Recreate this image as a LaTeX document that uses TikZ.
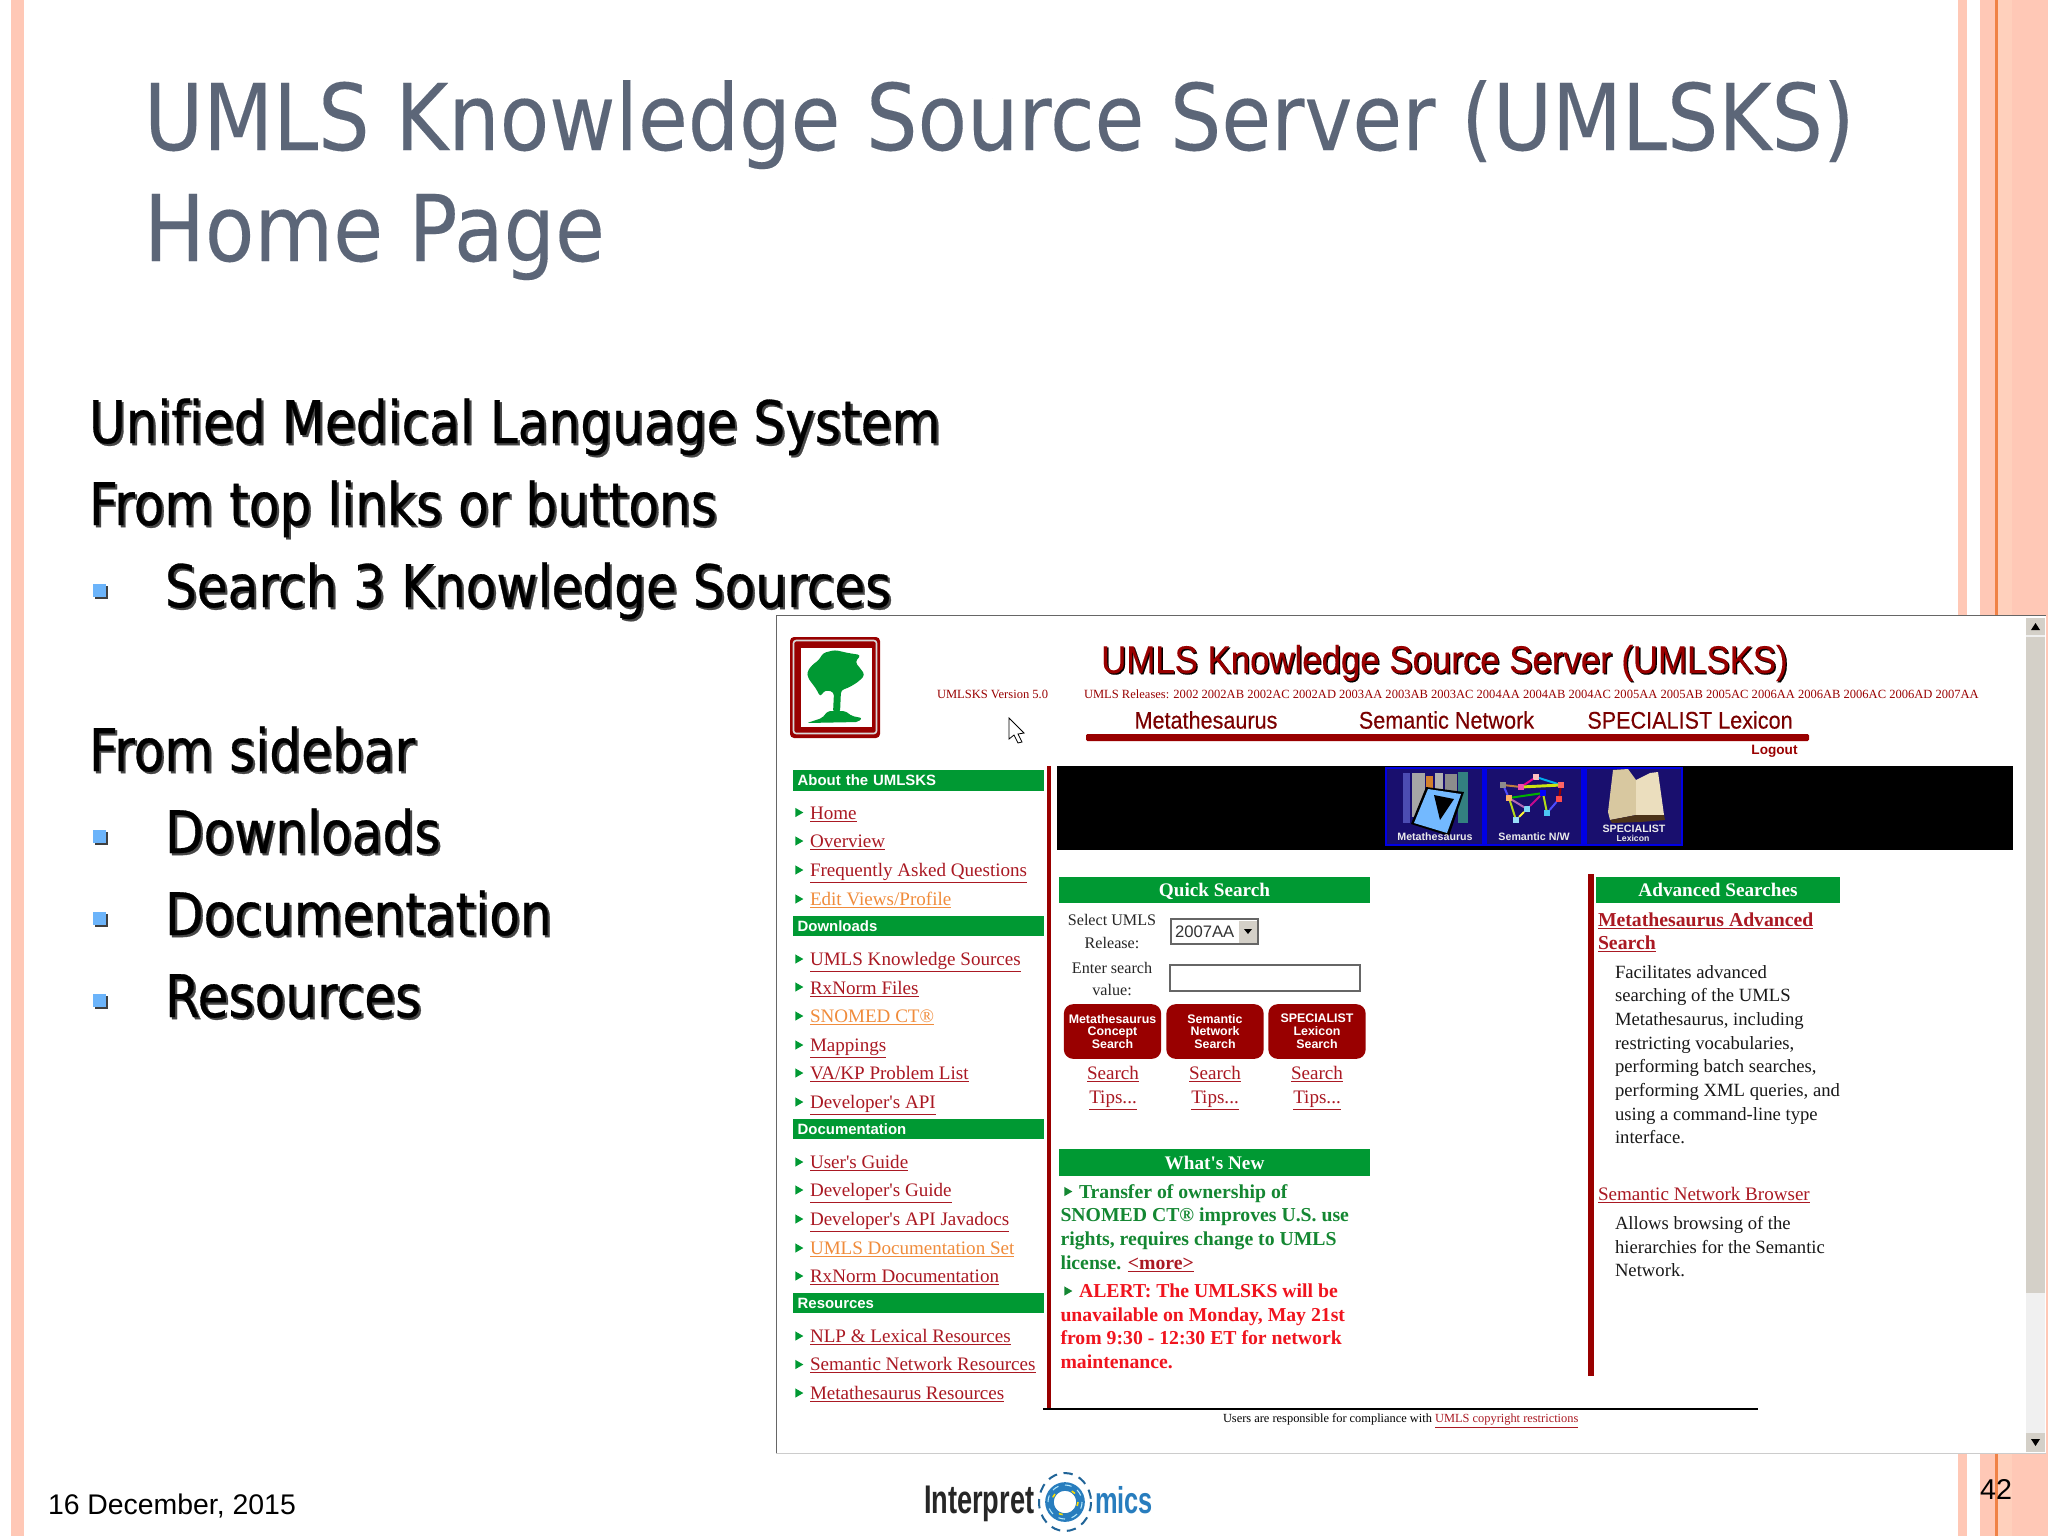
\documentclass[tikz,border=0pt]{standalone}
\usepackage{fontspec}
\setmainfont[Ligatures=TeXOff]{Liberation Serif}
\setsansfont{Liberation Sans}
\newfontfamily\slidefont[FakeStretch=0.88,FakeBold=0.15]{DejaVu Sans}
\newfontfamily\bodyfont[FakeStretch=0.855,FakeBold=0.5,Ligatures=NoCommon]{DejaVu Sans}
\newfontfamily\narrowfont[FakeStretch=0.68]{Liberation Sans}
\newfontfamily\webheadfont[FakeStretch=0.9,FakeBold=0.3]{Liberation Sans}
\usetikzlibrary{shapes.geometric}
\definecolor{stripe}{RGB}{255,200,182}
\definecolor{stripelight}{RGB}{255,208,188}
\definecolor{stripeline}{RGB}{240,130,70}
\definecolor{slidetitle}{RGB}{92,102,120}
\definecolor{bulletblue}{RGB}{108,180,250}
\definecolor{webred}{RGB}{153,0,0}
\definecolor{webgreen}{RGB}{0,153,51}
\definecolor{weborange}{RGB}{240,140,60}
\definecolor{newsgreen}{RGB}{20,135,50}
\definecolor{newsred}{RGB}{240,20,30}
\definecolor{linkred}{RGB}{170,25,35}
\definecolor{panelblue}{RGB}{25,15,110}
\definecolor{winshade}{RGB}{212,208,200}
\definecolor{logoblue}{RGB}{40,125,190}
\definecolor{booktan}{RGB}{216,200,160}
\definecolor{booklight}{RGB}{235,222,190}
\newcommand{\shadowed}[3][black!72]{\leavevmode\rlap{\kern#2\textcolor{#1}{\raisebox{-#2}{#3}}}#3}
\tikzset{
  every picture/.style={line width=0.75pt},
  every node/.style={inner sep=0pt,outer sep=0pt},
  slidehead/.style={anchor=base west,text=slidetitle,font=\slidefont\fontsize{69}{80}\selectfont},
  slideline/.style={anchor=base west,text=black,font=\bodyfont\fontsize{44}{50}\selectfont},
  sidehead/.style={fill=webgreen,anchor=west,minimum width=188pt,minimum height=15.5pt,text=white,align=left,font=\sffamily\bfseries\fontsize{11.2}{13}\selectfont,text width=181pt,inner xsep=3.5pt},
  sidelink/.style={anchor=base west,text=linkred,font=\fontsize{14.3}{17}\selectfont},
  orangelink/.style={sidelink,text=weborange},
  sidetip/.style={fill=webgreen,draw=none,regular polygon,regular polygon sides=3,shape border rotate=-90,minimum size=8pt},
  boxhead/.style={anchor=base,fill=none,text=white,font=\bfseries\fontsize{14.4}{17}\selectfont},
  smalltext/.style={anchor=base,text=black!85,font=\fontsize{12.1}{15}\selectfont},
  searchbtn/.style={fill=webred,rounded corners=7pt,minimum width=73pt,minimum height=41pt,text=white,align=center,font=\sffamily\bfseries\fontsize{9.3}{9.6}\selectfont},
  tiplink/.style={sidelink,anchor=base},
  newsgreen/.style={anchor=base west,text=newsgreen,font=\bfseries\fontsize{14.8}{16}\selectfont},
  newsred/.style={anchor=base west,text=newsred,font=\bfseries\fontsize{14.8}{16}\selectfont},
  paratext/.style={anchor=base west,text=black!90,font=\fontsize{14}{16}\selectfont},
  toplink/.style={text=webred!80!black,font=\webheadfont\fontsize{18}{20}\selectfont},
  releasetext/.style={text=webred,font=\fontsize{9.4}{10}\selectfont},
  paneltext/.style={text=white!92!black,font=\sffamily\bfseries\fontsize{8}{8}\selectfont},
  netnode/.style={draw=none,minimum size=4.5pt},
  netedge/.style={line width=1.5pt},
}
\begin{document}
\begin{tikzpicture}[x=0.75pt,y=0.75pt,yscale=-1,xscale=1]
\useasboundingbox (0,0) rectangle (2048,1536);
\fill [white] (0,0) rectangle (2048,1536);

%Side stripes
\fill [stripe] (11,0) rectangle (24,1536);
\fill [stripe] (1958,0) rectangle (1967,1536);
\fill [stripe] (1980,0) rectangle (2048,1536);
\fill [stripelight] (1997,0) rectangle (2012,1536);
\draw [stripeline,line width=1.6pt] (1996.5,0) -- (1996.5,1536);

%Slide title
\node [slidehead] (titleone) at (144,150) {UMLS Knowledge Source Server (UMLSKS)};
\node [slidehead] (titletwo) at (144,261) {Home Page};

%Slide text
\node [slideline] (lineunified) at (89,443) {\shadowed{1.6pt}{Unified Medical Language System}};
\node [slideline] (linetop) at (89,525) {\shadowed{1.6pt}{From top links or buttons}};
\node [slideline] (linesearch) at (165,607) {\shadowed{1.6pt}{Search 3 Knowledge Sources}};
\node [slideline] (linesidebar) at (89,771) {\shadowed{1.6pt}{From sidebar}};
\node [slideline] (linedown) at (165,853) {\shadowed{1.6pt}{Downloads}};
\node [slideline] (linedoc) at (165,935) {\shadowed{1.6pt}{Documentation}};
\node [slideline] (lineres) at (165,1017) {\shadowed{1.6pt}{Resources}};
\fill [black!75] (95,586) rectangle (108,599);
\fill [bulletblue] (93,584) rectangle (106,597);
\fill [black!75] (95,832) rectangle (108,845);
\fill [bulletblue] (93,830) rectangle (106,843);
\fill [black!75] (95,914) rectangle (108,927);
\fill [bulletblue] (93,912) rectangle (106,925);
\fill [black!75] (95,996) rectangle (108,1009);
\fill [bulletblue] (93,994) rectangle (106,1007);

%Screenshot window
\fill [white] (776,615) rectangle (2046,1453);
\draw [black!60] (776,1453) -- (776,615) -- (2046,615);
\draw [black!20] (776,1453) -- (2046,1453);

%Scroll bar
\fill [black!6] (2026,618) rectangle (2045,1452);
\fill [winshade] (2026,637) rectangle (2045,1293);
\fill [winshade] (2026,618) rectangle (2045,635);
\fill [winshade] (2026,1433) rectangle (2045,1452);
\fill [black] (2035.5,623) -- (2031,630) -- (2040,630) -- cycle;
\fill [black] (2035.5,1446) -- (2031,1439) -- (2040,1439) -- cycle;

%Tree logo
\fill [webred,rounded corners=3pt] (790,637) rectangle (880,738);
\draw [white!85!black,line width=1.2pt,rounded corners=2pt] (793.5,640.5) rectangle (876.5,733.5);
\fill [white] (800.5,648) rectangle (872,727);
\fill [webgreen,rounded corners=2.5pt] (823,653) -- (835,650) -- (848,653) -- (861,655) -- (855,662) -- (860,668) -- (865,675) -- (858,682) -- (848,688) -- (841,690) -- (840,713) -- (833,713) -- (834,692) -- (825,690) -- (820,697) -- (817,690) -- (808,678) -- (807,672) -- (812,665) -- (819,660) -- cycle;
\fill [webgreen,rounded corners=1.5pt] (807,723) -- (822,718) -- (828,711) -- (845,711) -- (852,716) -- (862,718) -- (858,722) -- cycle;

%Page header
\node [anchor=base,text=webred,font=\webheadfont\fontsize{29}{32}\selectfont] (webtitle) at (1444.5,673) {\shadowed[black]{1pt}{UMLS Knowledge Source Server (UMLSKS)}};
\node [releasetext,anchor=west] (webversion) at (937,694) {UMLSKS Version 5.0};
\node [releasetext,anchor=west] (webreleases) at (1084,694) {UMLS Releases: 2002 2002AB 2002AC 2002AD 2003AA 2003AB 2003AC 2004AA 2004AB 2004AC 2005AA 2005AB 2005AC 2006AA 2006AB 2006AC 2006AD 2007AA};
\node [toplink] (linkmeta) at (1206,720) {Metathesaurus};
\node [toplink] (linksem) at (1446.5,720) {Semantic Network};
\node [toplink] (linkspec) at (1690,720) {SPECIALIST Lexicon};
\fill [webred,rounded corners=1pt] (1086,734) rectangle (1809,741);
\node [text=webred,font=\sffamily\bfseries\fontsize{10.2}{12}\selectfont] (linklogout) at (1774.5,751) {Logout};
\draw [black,fill=white,line width=0.6pt] (1009,718) -- (1009,739) -- (1014,735) -- (1018,743) -- (1022,742) -- (1018,734) -- (1024,733) -- cycle;

%Black band and the three pictures
\fill [black] (1057,766) rectangle (2013,850);
\fill [blue!90!black] (1385,767) rectangle (1683,846);
\fill [panelblue] (1387,769) rectangle (1482,844);
\fill [panelblue] (1487,769) rectangle (1581,844);
\fill [panelblue] (1587,769) rectangle (1681,844);

%Metathesaurus books
\fill [blue!40!gray] (1403,773) rectangle (1410,823);
\fill [black!35] (1412,773) rectangle (1425,817);
\fill [brown!70!orange] (1426,776) rectangle (1433,794);
\fill [black!30] (1435,773) rectangle (1443,797);
\fill [black!45] (1445,774) rectangle (1457,797);
\fill [teal!60!gray] (1458,772) rectangle (1468,823);
\fill [black] (1426,787) -- (1464,792) -- (1449,836) -- (1411,824) -- cycle;
\fill [blue!50!cyan!55!white] (1428,789) -- (1461,794) -- (1447,833) -- (1414,823) -- cycle;
\fill [black] (1434,795) -- (1454,799) -- (1440,820) -- cycle;
\node [paneltext] (panelmeta) at (1435,837) {Metathesaurus};

%Semantic network picture
\node [netnode,fill=black!45] (neta) at (1503,785) {};
\node [netnode,fill=magenta!70] (netb) at (1521,787) {};
\node [netnode,fill=pink] (netc) at (1536,777) {};
\node [netnode,fill=red!60] (netd) at (1561,785) {};
\node [netnode,fill=blue] (nete) at (1543,793) {};
\node [netnode,fill=orange!60] (netf) at (1509,798) {};
\node [netnode,fill=red!70] (netg) at (1559,799) {};
\node [netnode,fill=cyan!50] (neth) at (1527,809) {};
\node [netnode,fill=cyan!70] (neti) at (1547,813) {};
\node [netnode,fill=cyan!40] (netj) at (1516,820) {};
\draw [netedge,brown] (neta) -- (netb);
\draw [netedge,magenta] (netb) -- (netc);
\draw [netedge,cyan] (netc) -- (netd);
\draw [netedge,yellow!80!green,line width=2.2pt] (netb) -- (netd);
\draw [netedge,blue!70!white] (neta) -- (netf);
\draw [netedge,green!70!black] (netf) -- (nete);
\draw [netedge,violet!60!white] (netf) -- (neth);
\draw [netedge,yellow!70!green] (netf) -- (netj);
\draw [netedge,yellow!80!white] (neth) -- (netj);
\draw [netedge,magenta!80!blue] (neth) -- (nete);
\draw [netedge,yellow!70!green] (nete) -- (neti);
\draw [netedge,red!60!black] (netd) -- (netg);
\draw [netedge,blue!70!white] (netg) -- (neti);
\node [paneltext] (panelsem) at (1534,837) {Semantic N/W};

%Open book picture
\fill [booktan] (1613,770) -- (1628,769) -- (1636,780) -- (1636,815) -- (1610,820) -- (1608,812) -- cycle;
\fill [booklight] (1636,780) -- (1650,773) -- (1658,772) -- (1664,815) -- (1636,815) -- cycle;
\fill [black!60!brown] (1610,820) -- (1636,815) -- (1664,815) -- (1665,820) -- (1640,822) -- (1612,823) -- cycle;
\node [paneltext] (panelspec) at (1634,829) {SPECIALIST};
\node [paneltext,font=\sffamily\bfseries\fontsize{6.5}{8}\selectfont] (panellex) at (1633,838.5) {Lexicon};

%Sidebar
\draw [webred,line width=2.6pt] (1049,766) -- (1049,1409);
\draw [black,line width=2pt] (1043,1409) -- (1758,1409);
\node [sidehead] (headabout) at (793,780.5) {About the UMLSKS};
\node [sidetip] (tiphome) at (798,812.5) {};
\node [sidelink] (linkhome) at (810,819) {\underline{Home}};
\node [sidetip] (tipover) at (798,841) {};
\node [sidelink] (linkover) at (810,847.5) {\underline{Overview}};
\node [sidetip] (tipfaq) at (798,870) {};
\node [sidelink] (linkfaq) at (810,876.5) {\underline{Frequently Asked Questions}};
\node [sidetip] (tipedit) at (798,899) {};
\node [orangelink] (linkedit) at (810,905.5) {\underline{Edit Views/Profile}};
\node [sidehead] (headdown) at (793,926) {Downloads};
\node [sidetip] (tipsrc) at (798,959) {};
\node [sidelink] (linksrc) at (810,965.5) {\underline{UMLS Knowledge Sources}};
\node [sidetip] (tiprx) at (798,987) {};
\node [sidelink] (linkrx) at (810,994) {\underline{RxNorm Files}};
\node [sidetip] (tipsno) at (798,1016) {};
\node [orangelink] (linksno) at (810,1022.5) {\underline{SNOMED CT®}};
\node [sidetip] (tipmap) at (798,1045) {};
\node [sidelink] (linkmap) at (810,1051) {\underline{Mappings}};
\node [sidetip] (tipva) at (798,1073) {};
\node [sidelink] (linkva) at (810,1079.5) {\underline{VA/KP Problem List}};
\node [sidetip] (tipapi) at (798,1102) {};
\node [sidelink] (linkapi) at (810,1108) {\underline{Developer's API}};
\node [sidehead] (headdoc) at (793,1129) {Documentation};
\node [sidetip] (tipuser) at (798,1162) {};
\node [sidelink] (linkuser) at (810,1168) {\underline{User's Guide}};
\node [sidetip] (tipdev) at (798,1190) {};
\node [sidelink] (linkdev) at (810,1196.5) {\underline{Developer's Guide}};
\node [sidetip] (tipjava) at (798,1219) {};
\node [sidelink] (linkjava) at (810,1225) {\underline{Developer's API Javadocs}};
\node [sidetip] (tipset) at (798,1248) {};
\node [orangelink] (linkset) at (810,1254) {\underline{UMLS Documentation Set}};
\node [sidetip] (tiprxdoc) at (798,1276) {};
\node [sidelink] (linkrxdoc) at (810,1282.5) {\underline{RxNorm Documentation}};
\node [sidehead] (headres) at (793,1303) {Resources};
\node [sidetip] (tipnlp) at (798,1336) {};
\node [sidelink] (linknlp) at (810,1342) {\underline{NLP \& Lexical Resources}};
\node [sidetip] (tipnet) at (798,1364.5) {};
\node [sidelink] (linknet) at (810,1370.5) {\underline{Semantic Network Resources}};
\node [sidetip] (tipres) at (798,1393) {};
\node [sidelink] (linkres) at (810,1399) {\underline{Metathesaurus Resources}};

%Quick search
\fill [webgreen] (1059,877) rectangle (1370,903);
\node [boxhead] (headquick) at (1214.5,896.5) {Quick Search};
\node [smalltext] (selectone) at (1112,925.5) {Select UMLS};
\node [smalltext] (selecttwo) at (1112,948.5) {Release:};
\node [smalltext] (enterone) at (1112,973) {Enter search};
\node [smalltext] (entertwo) at (1112,995.5) {value:};
\draw [black!60,fill=white,line width=1pt] (1171,919) rectangle (1258,944);
\node [anchor=west,text=black!80,font=\sffamily\fontsize{12.5}{15}\selectfont] (selectyear) at (1175,931.5) {2007AA};
\fill [winshade] (1239,921) rectangle (1257,943);
\fill [black] (1244,929) -- (1252,929) -- (1248,934) -- cycle;
\draw [black!60,fill=white,line width=1pt] (1170,965) rectangle (1360,991);
\node [searchbtn] (btnmeta) at (1112.5,1031.5) {Metathesaurus\\Concept\\Search};
\node [searchbtn] (btnsem) at (1215,1031.5) {Semantic\\Network\\Search};
\node [searchbtn] (btnspec) at (1317,1031.5) {SPECIALIST\\Lexicon\\Search};
\node [tiplink] (tipsmeta) at (1113,1079.5) {\underline{Search}};
\node [tiplink] (tipstextmeta) at (1113,1103) {\underline{Tips...}};
\node [tiplink] (tipssem) at (1215,1079.5) {\underline{Search}};
\node [tiplink] (tipstextsem) at (1215,1103) {\underline{Tips...}};
\node [tiplink] (tipsspec) at (1317,1079.5) {\underline{Search}};
\node [tiplink] (tipstextspec) at (1317,1103) {\underline{Tips...}};

%What's new
\fill [webgreen] (1059,1149) rectangle (1370,1175.5);
\node [boxhead] (headnew) at (1214.5,1169) {What's New};
\node [sidetip,fill=newsgreen] (tiptransfer) at (1067,1191.5) {};
\node [newsgreen] (newsone) at (1079,1198) {Transfer of ownership of};
\node [newsgreen] (newstwo) at (1060.5,1221.5) {SNOMED CT® improves U.S. use};
\node [newsgreen] (newsthree) at (1060.5,1245) {rights, requires change to UMLS};
\node [newsgreen] (newsfour) at (1060.5,1269) {license. \textcolor{linkred}{\underline{<more>}}};
\node [sidetip,fill=newsgreen] (tipalert) at (1067,1291) {};
\node [newsred] (alertone) at (1079,1297) {ALERT: The UMLSKS will be};
\node [newsred] (alerttwo) at (1060.5,1321) {unavailable on Monday, May 21st};
\node [newsred] (alertthree) at (1060.5,1344.5) {from 9:30 - 12:30 ET for network};
\node [newsred] (alertfour) at (1060.5,1368.5) {maintenance.};

%Advanced searches
\fill [webred] (1588,874) rectangle (1594,1376);
\fill [webgreen] (1596,877) rectangle (1840,903);
\node [boxhead] (headadv) at (1718,896.5) {Advanced Searches};
\node [sidelink,font=\bfseries\fontsize{14.8}{17}\selectfont] (advone) at (1598,926) {\underline{Metathesaurus Advanced}};
\node [sidelink,font=\bfseries\fontsize{14.8}{17}\selectfont] (advtwo) at (1598,949.5) {\underline{Search}};
\node [paratext] (paraone) at (1615,978) {Facilitates advanced};
\node [paratext] (paratwo) at (1615,1001.5) {searching of the UMLS};
\node [paratext] (parathree) at (1615,1025.5) {Metathesaurus, including};
\node [paratext] (parafour) at (1615,1049) {restricting vocabularies,};
\node [paratext] (parafive) at (1615,1072.5) {performing batch searches,};
\node [paratext] (parasix) at (1615,1096.5) {performing XML queries, and};
\node [paratext] (paraseven) at (1615,1120.5) {using a command-line type};
\node [paratext] (paraeight) at (1615,1143.5) {interface.};
\node [sidelink] (linkbrowser) at (1598,1200) {\underline{Semantic Network Browser}};
\node [paratext] (browseone) at (1615,1229) {Allows browsing of the};
\node [paratext] (browsetwo) at (1615,1253) {hierarchies for the Semantic};
\node [paratext] (browsethree) at (1615,1276.5) {Network.};
\node [anchor=west,text=black,font=\fontsize{9.3}{10}\selectfont] (webfoot) at (1223,1421) {Users are responsible for compliance with \textcolor{linkred}{\underline{UMLS copyright restrictions}}};

%Slide footer
\node [anchor=base west,font=\sffamily\fontsize{21.3}{24}\selectfont] (slidedate) at (48,1514) {16 December, 2015};
\node [anchor=base east,font=\sffamily\fontsize{21.5}{24}\selectfont] (slidenum) at (2012,1499) {42};
\node [anchor=base west,text=black!85,font=\narrowfont\bfseries\fontsize{30}{32}\selectfont] (logoleft) at (924,1513) {Interpret};
\node [anchor=base west,text=logoblue,font=\narrowfont\bfseries\fontsize{28}{32}\selectfont] (logoright) at (1095,1513) {mics};
\draw [logoblue,line width=6.5pt] (1065,1502) circle (15.5);
\draw [yellow!80!orange,line width=1.2pt,dash pattern=on 3pt off 14pt] (1065,1502) circle (13);
\draw [white!70!cyan,line width=0.8pt,dash pattern=on 5pt off 5pt] (1065,1502) circle (17);
\draw [logoblue!80!black,line width=1.5pt,dash pattern=on 7pt off 5pt] (1065,1502) ellipse (26 and 29);
\end{tikzpicture}
\end{document}
